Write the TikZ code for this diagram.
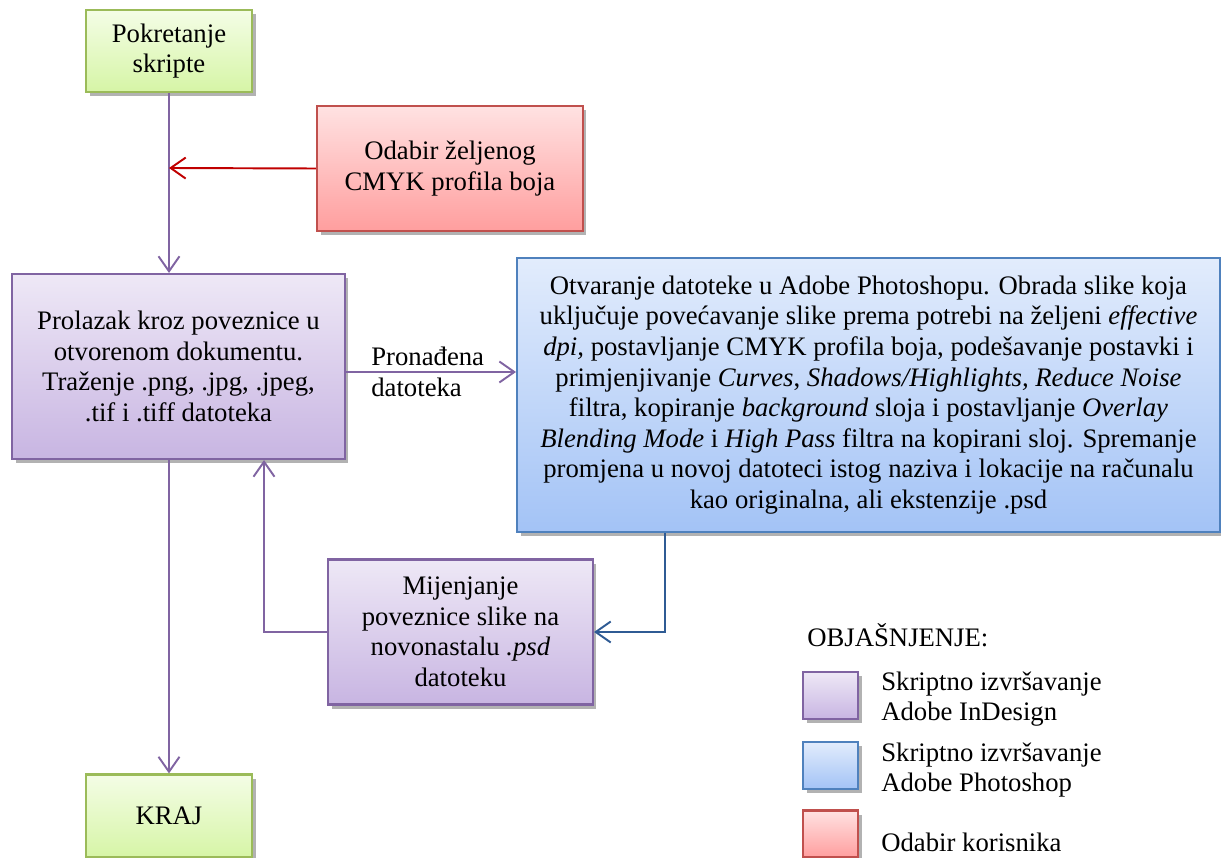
\documentclass[tikz,border=0pt]{standalone}
\usepackage{fontspec}
\setmainfont{Liberation Serif}
\usetikzlibrary{arrows.meta,shadows}
\definecolor{pborder}{HTML}{8064A2}
\definecolor{ptop}{HTML}{EEE8F6}
\definecolor{pbot}{HTML}{C8B5E2}
\definecolor{gborder}{HTML}{9BBB59}
\definecolor{gtop}{HTML}{F4FDE6}
\definecolor{gbot}{HTML}{D6F5A6}
\definecolor{rborder}{HTML}{C0504D}
\definecolor{rtop}{HTML}{FFE2E2}
\definecolor{rbot}{HTML}{FF9E9E}
\definecolor{bborder}{HTML}{4F81BD}
\definecolor{btop}{HTML}{E2ECFC}
\definecolor{bbot}{HTML}{A3C3F6}
\definecolor{redline}{HTML}{C00000}
\definecolor{blueline}{HTML}{2F5B94}
\tikzset{
  x=0.02cm, y=-0.02cm,
  every node/.style={font=\fontsize{15.2}{17.4}\selectfont, text=black},
  boxbase/.style={draw, line width=1.2pt, align=center, inner sep=2pt,
    drop shadow={shadow xshift=2pt, shadow yshift=-2.5pt, opacity=0.3, fill=black}},
  gbox/.style={boxbase, draw=gborder, top color=gtop, bottom color=gbot},
  pbox/.style={boxbase, draw=pborder, top color=ptop, bottom color=pbot},
  rbox/.style={boxbase, draw=rborder, top color=rtop, bottom color=rbot},
  bbox/.style={boxbase, draw=bborder, top color=btop, bottom color=bbot},
  conn/.style={line width=1.1pt, -{Straight Barb[length=0.3cm, width=0.42cm, line width=1.1pt]}},
  pconn/.style={conn, draw=pborder},
  lbl/.style={align=left, anchor=west, inner sep=0pt}
}
\begin{document}
\begin{tikzpicture}
\useasboundingbox (0,0) rectangle (1221,858);
% main boxes
\node[gbox, minimum width=3.32cm, minimum height=1.64cm] (start) at (169,51) {Pokretanje\\skripte};
\node[rbox, minimum width=5.32cm, minimum height=2.5cm] (cmyk) at (450,168.5) {Odabir željenog\\CMYK profila boja};
\node[pbox, minimum width=6.66cm, minimum height=3.7cm] (main) at (178.5,366.5) {Prolazak kroz poveznice u\\otvorenom dokumentu.\\Traženje .png, .jpg, .jpeg,\\.tif i .tiff datoteka};
\node[bbox, minimum width=14.06cm, minimum height=5.48cm] (ps) at (868.5,395) {Otvaranje datoteke u Adobe Photoshopu. Obrada slike koja\\uključuje povećavanje slike prema potrebi na željeni \textit{effective}\\\textit{dpi,} postavljanje CMYK profila boja, podešavanje postavki i\\primjenjivanje \textit{Curves}, \textit{Shadows/Highlights, Reduce Noise}\\filtra, kopiranje \textit{background} sloja i postavljanje \textit{Overlay}\\\textit{Blending Mode} i \textit{High Pass} filtra na kopirani sloj. Spremanje\\promjena u novoj datoteci istog naziva i lokacije na računalu\\kao originalna, ali ekstenzije .psd};
\node[pbox, minimum width=5.3cm, minimum height=2.9cm] (mij) at (460.5,632) {Mijenjanje\\poveznice slike na\\novonastalu \textit{.psd}\\datoteku};
\node[gbox, minimum width=3.32cm, minimum height=1.66cm] (kraj) at (169,816) {KRAJ};
% coordinates
\coordinate (jred) at (169,168);
\coordinate (bcorner) at (665,632);
\coordinate (mcorner) at (264,632);
% connectors
\draw[pconn] (start.south) -- (start.south |- main.north);
\draw[conn, draw=redline] (cmyk.west) -- (jred);
\draw[pconn] (main.east |- 0,372) -- (ps.west |- 0,372);
\node[lbl] (found) at (371,372) {Pronađena\\datoteka};
\draw[pconn] (main.south -| kraj.north) -- (kraj.north);
\draw[conn, draw=blueline] (ps.south -| bcorner) -- (bcorner) -- (mij.east);
\draw[pconn] (mij.west) -- (mcorner) -- (main.south -| mcorner);
% legend
\node[lbl] (leg) at (807,635) {OBJAŠNJENJE:};
\node[pbox, minimum width=1.1cm, minimum height=0.94cm] (lp) at (830.5,695.5) {};
\node[bbox, minimum width=1.1cm, minimum height=0.94cm] (lb) at (830.5,765.5) {};
\node[rbox, minimum width=1.1cm, minimum height=0.94cm] (lr) at (830.5,834) {};
\node[lbl] (lpt) at (881,699) {Skriptno izvršavanje\\Adobe InDesign};
\node[lbl] (lbt) at (881,770) {Skriptno izvršavanje\\Adobe Photoshop};
\node[lbl] (lrt) at (881,842) {Odabir korisnika};
\end{tikzpicture}
\end{document}
